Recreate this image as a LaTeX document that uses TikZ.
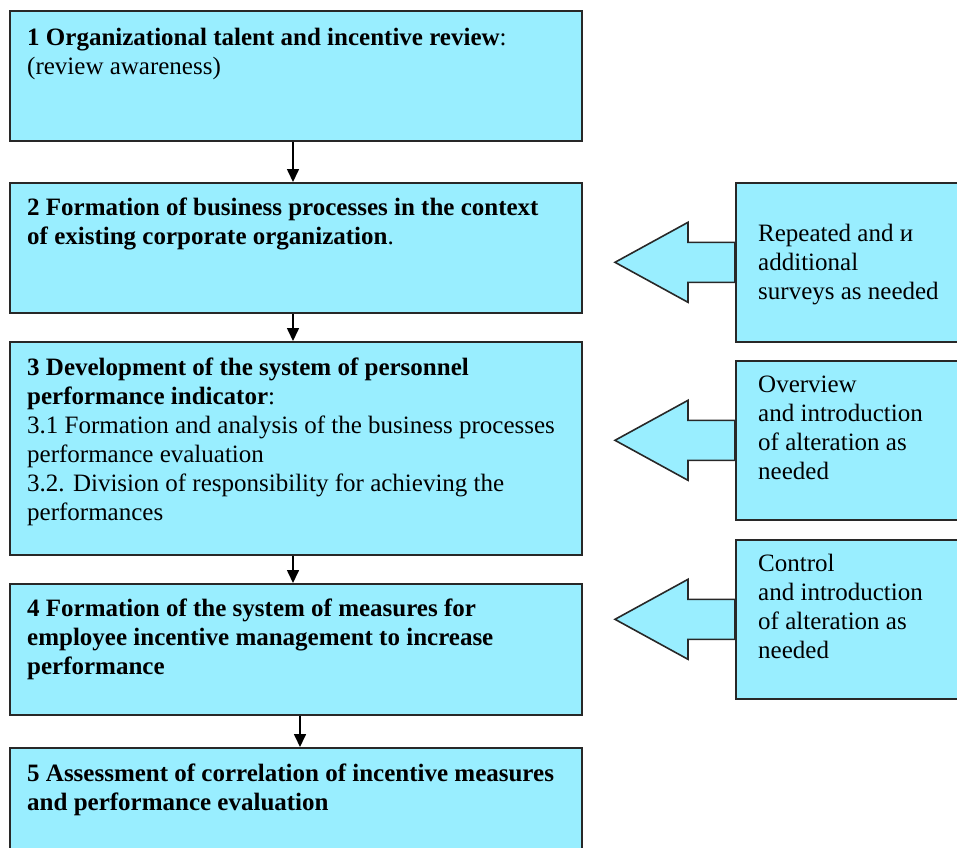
\documentclass[tikz,border=0pt]{standalone}
\usepackage{fontspec}
\setmainfont{Liberation Serif}
\usetikzlibrary{arrows.meta,backgrounds}
\definecolor{boxfill}{RGB}{153,238,255}
\definecolor{boxline}{RGB}{40,40,40}
\tikzset{
  box/.style={draw=boxline, fill=boxfill, line width=1.6pt, rectangle, inner sep=0pt, anchor=north west},
  txt/.style={anchor=north west, inner sep=0pt, align=left, font=\fontsize{25}{29}\selectfont},
  flow/.style={draw=black, line width=1.6pt, -{Triangle[length=13pt,width=12pt]}},
  bigarrow/.style={draw=boxline, fill=boxfill, line width=1.6pt, line join=miter}
}
\newcommand{\fl}{\strut}
\begin{document}
\begin{tikzpicture}[x=1pt,y=-1pt]
\useasboundingbox (0,0) rectangle (957,847);
\clip (0,0) rectangle (957,847);
% left boxes
\node[box, minimum width=572pt, minimum height=130pt] (b1) at (9,10) {};
\node[box, minimum width=572pt, minimum height=130pt] (b2) at (9,182) {};
\node[box, minimum width=572pt, minimum height=213pt] (b3) at (9,341) {};
\node[box, minimum width=572pt, minimum height=131pt] (b4) at (9,583) {};
\node[box, minimum width=572pt, minimum height=130pt] (b5) at (9,747) {};
% right boxes
\node[box, minimum width=230pt, minimum height=159pt] (r1) at (735,182) {};
\node[box, minimum width=230pt, minimum height=159pt] (r2) at (735,360) {};
\node[box, minimum width=230pt, minimum height=159pt] (r3) at (735,539) {};
% big arrows
\begin{scope}[on background layer]
\foreach \r in {r1,r2,r3}{
  \draw[bigarrow] (\r.west) ++(0,-20) -- ++(-47,0) -- ++(0,-20) -- ++(-73,40) -- ++(73,40) -- ++(0,-20) -- ++(47,0) -- cycle;
}
\end{scope}
% texts (node top = first baseline - 20.3)
\node[txt] (t1) at (27,24.7) {\fl\textbf{1 Organizational talent and incentive review}:\\(review awareness)};
\node[txt] (t2) at (27,194.7) {\fl\textbf{2 Formation of business processes in the context}\\\textbf{of existing corporate organization}.};
\node[txt] (t3) at (27,354.7) {\fl\textbf{3 Development of the system of personnel}\\\textbf{performance indicator}:\\3.1 Formation and analysis of the business processes\\performance evaluation\\3.2. Division of responsibility for achieving the\\performances};
\node[txt] (t4) at (27,595.7) {\fl\textbf{4 Formation of the system of measures for}\\\textbf{employee incentive management to increase}\\\textbf{performance}};
\node[txt] (t5) at (27,760.7) {\fl\textbf{5 Assessment of correlation of incentive measures}\\\textbf{and performance evaluation}};
\node[txt] (s1) at (758,220.7) {\fl Repeated and и\\additional\\surveys as needed};
\node[txt] (s2) at (758,371.7) {\fl Overview\\and introduction\\of alteration as\\needed};
\node[txt] (s3) at (758,550.7) {\fl Control\\and introduction\\of alteration as\\needed};
% flow arrows
\draw[flow] (b1.south -| 293,0) -- (b2.north -| 293,0);
\draw[flow] (b2.south -| 293,0) -- (b3.north -| 293,0);
\draw[flow] (b3.south -| 293,0) -- (b4.north -| 293,0);
\draw[flow] (b4.south -| 300,0) -- (b5.north -| 300,0);
\end{tikzpicture}
\end{document}
